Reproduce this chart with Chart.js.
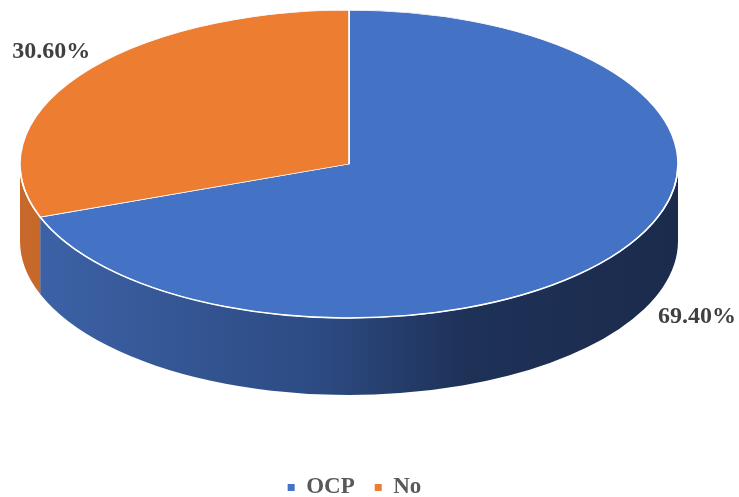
<!DOCTYPE html>
<html lang="en">
<head>
<meta charset="UTF-8">
<title>OCP</title>
<script src="https://cdn.jsdelivr.net/npm/chart.js"></script>
<style>
    body { margin: 0; background: #fff; }
    #wrap { width: 739px; height: 497px; }
</style>
</head>
<body>
<div id="wrap"><canvas id="pieChart"></canvas></div>
<script>
const labels = ['OCP', 'No'];
const values = [69.4, 30.6];
const valueLabels = ['69.40%', '30.60%'];

const topColors = ['#4472c4', '#ed7d31'];

// fake 3d: squash the pie and paint a wall under its front half
const tilt = 0.468;
const depth = 77;
const shiftX = -5.5;
const centerY = 164;
// where the % labels sit, in units of the ellipse radii
const labelSpots = [[1.058, 0.99], [-0.905, -0.73]];

function geom(chart) {
    const arc = chart.getDatasetMeta(0).data[0];
    return {
        x: arc.x, y: arc.y,
        tx: arc.x + shiftX, ty: chart.chartArea.top + centerY,
        rx: arc.outerRadius, ry: arc.outerRadius * tilt
    };
}

function wallFill(ctx, g, i) {
    const grad = ctx.createLinearGradient(g.tx - g.rx, 0, g.tx + g.rx, 0);
    if (i === 0) {
        grad.addColorStop(0, '#3d63a8');
        grad.addColorStop(0.45, '#2d4b83');
        grad.addColorStop(0.68, '#1e3157');
        grad.addColorStop(1, '#1b2b4c');
    } else {
        grad.addColorStop(0, '#c8692b');
        grad.addColorStop(1, '#8a4416');
    }
    return grad;
}

const pie3d = {
    id: 'pie3d',
    afterLayout(chart) {
        // legend sits a bit lower in the original
        chart.legend.top += 12;
        chart.legend.bottom += 12;
    },
    beforeDatasetsDraw(chart) {
        const ctx = chart.ctx;
        const g = geom(chart);
        const arcs = chart.getDatasetMeta(0).data;
        ctx.save();
        arcs.forEach((el, i) => {
            [-2 * Math.PI, 0, 2 * Math.PI].forEach(k => {
                const a1 = Math.max(el.startAngle + k, 0);
                const a2 = Math.min(el.endAngle + k, Math.PI);
                if (a2 <= a1) return;
                ctx.beginPath();
                ctx.ellipse(g.tx, g.ty, g.rx, g.ry, 0, a1, a2);
                ctx.ellipse(g.tx, g.ty + depth, g.rx, g.ry, 0, a2, a1, true);
                ctx.closePath();
                ctx.fillStyle = wallFill(ctx, g, i);
                ctx.fill();
            });
        });
        ctx.restore();
        // squash what chart.js draws next
        ctx.save();
        ctx.translate(g.tx, g.ty);
        ctx.scale(1, tilt);
        ctx.translate(-g.x, -g.y);
    },
    afterDatasetsDraw(chart) {
        const ctx = chart.ctx;
        ctx.restore();
        const g = geom(chart);
        // white rim between top and wall
        ctx.save();
        ctx.beginPath();
        ctx.ellipse(g.tx, g.ty, g.rx, g.ry, 0, 0.02, Math.PI - 0.02);
        ctx.strokeStyle = '#ffffff';
        ctx.lineWidth = 1.5;
        ctx.stroke();

        ctx.font = 'bold 24px "Liberation Serif", "Times New Roman", serif';
        ctx.fillStyle = '#404040';
        ctx.textAlign = 'center';
        ctx.textBaseline = 'middle';
        valueLabels.forEach((t, i) => {
            ctx.fillText(t, g.tx + labelSpots[i][0] * g.rx, g.ty + labelSpots[i][1] * g.ry);
        });
        ctx.restore();
    }
};

new Chart(document.getElementById('pieChart'), {
    type: 'pie',
    data: {
        labels: labels,
        datasets: [{
            data: values,
            backgroundColor: topColors,
            borderColor: '#ffffff',
            borderWidth: 1.6,
            radius: 329
        }]
    },
    options: {
        responsive: true,
        maintainAspectRatio: false,
        animation: false,
        events: [],
        layout: { padding: { right: 30 } },
        plugins: {
            tooltip: { enabled: false },
            legend: {
                position: 'bottom',
                labels: {
                    usePointStyle: true,
                    pointStyle: 'rect',
                    boxWidth: 7,
                    boxHeight: 7,
                    padding: 20,
                    color: '#595959',
                    font: { family: '"Liberation Serif", "Times New Roman", serif', size: 23, weight: 'bold' },
                    generateLabels(chart) {
                        const items = Chart.overrides.pie.plugins.legend.labels.generateLabels(chart);
                        items.forEach(it => { it.lineWidth = 0; });
                        return items;
                    }
                }
            }
        }
    },
    plugins: [pie3d]
});
</script>
</body>
</html>
